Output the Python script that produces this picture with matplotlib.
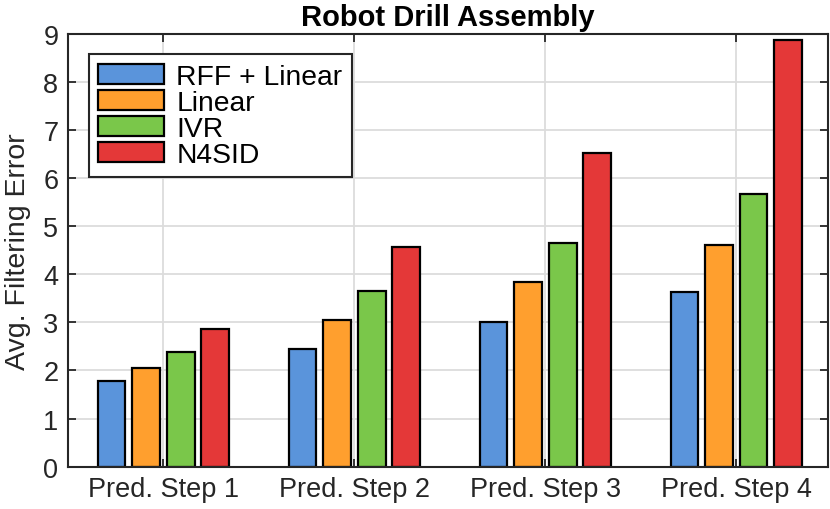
import matplotlib
matplotlib.use("Agg")
import matplotlib.pyplot as plt
import numpy as np

categories = ["Pred. Step 1", "Pred. Step 2", "Pred. Step 3", "Pred. Step 4"]
series_names = ["RFF + Linear", "Linear", "IVR", "N4SID"]
rff_linear = [1.79, 2.44, 3.01, 3.63]
linear = [2.05, 3.05, 3.84, 4.60]
ivr = [2.39, 3.65, 4.66, 5.67]
n4sid = [2.86, 4.56, 6.51, 8.87]
colors = ["#5A94DB", "#FF9F2E", "#7AC74A", "#E43838"]

plt.rcParams['font.family'] = ['Liberation Sans', 'DejaVu Sans']

fig = plt.figure(figsize=(8.3, 5.1), dpi=100)
ax = fig.add_axes([68/830, 1-467.7/510, 760/830, (467.7-34.7)/510])

x = np.arange(1, len(categories)+1)
series = [rff_linear, linear, ivr, n4sid]
step = 0.181
width = 0.145
for i, (vals, name, c) in enumerate(zip(series, series_names, colors)):
    ax.bar(x + (i-1.5)*step, vals, width=width, color=c, edgecolor='black',
           linewidth=1.6, label=name, zorder=3)

ax.set_xlim(0.5, 4.48)
ax.set_ylim(0, 9)
ax.set_yticks(range(0, 10))
ax.set_xticks(x)
ax.set_xticklabels(categories)
ax.grid(True, color='#DCDCDC', linewidth=1.3, zorder=0)
ax.set_axisbelow(True)
for s in ax.spines.values():
    s.set_color('#262626')
    s.set_linewidth(1.5)
    s.set_zorder(4)
ax.tick_params(axis='both', direction='in', length=6, width=1.3, color='#262626',
               labelsize=19.5, labelcolor='#262626', top=True, right=True)
ax.tick_params(axis='x', pad=7)
ax.tick_params(axis='y', pad=7)
ax.set_ylabel("Avg. Filtering Error", fontsize=20.5, color='#262626', labelpad=9)
ax.set_title("Robot Drill Assembly", fontsize=21, fontweight='bold', pad=6)

leg = ax.legend(loc='upper left', bbox_to_anchor=(0.0276, 0.952), fontsize=20.3,
                handlelength=2.33, handleheight=0.71, handletextpad=0.45,
                labelspacing=0.0, borderpad=0.32, borderaxespad=0,
                fancybox=False, framealpha=1, edgecolor='#262626')
leg.get_frame().set_linewidth(1.5)

fig.savefig("out.png", dpi=100)
